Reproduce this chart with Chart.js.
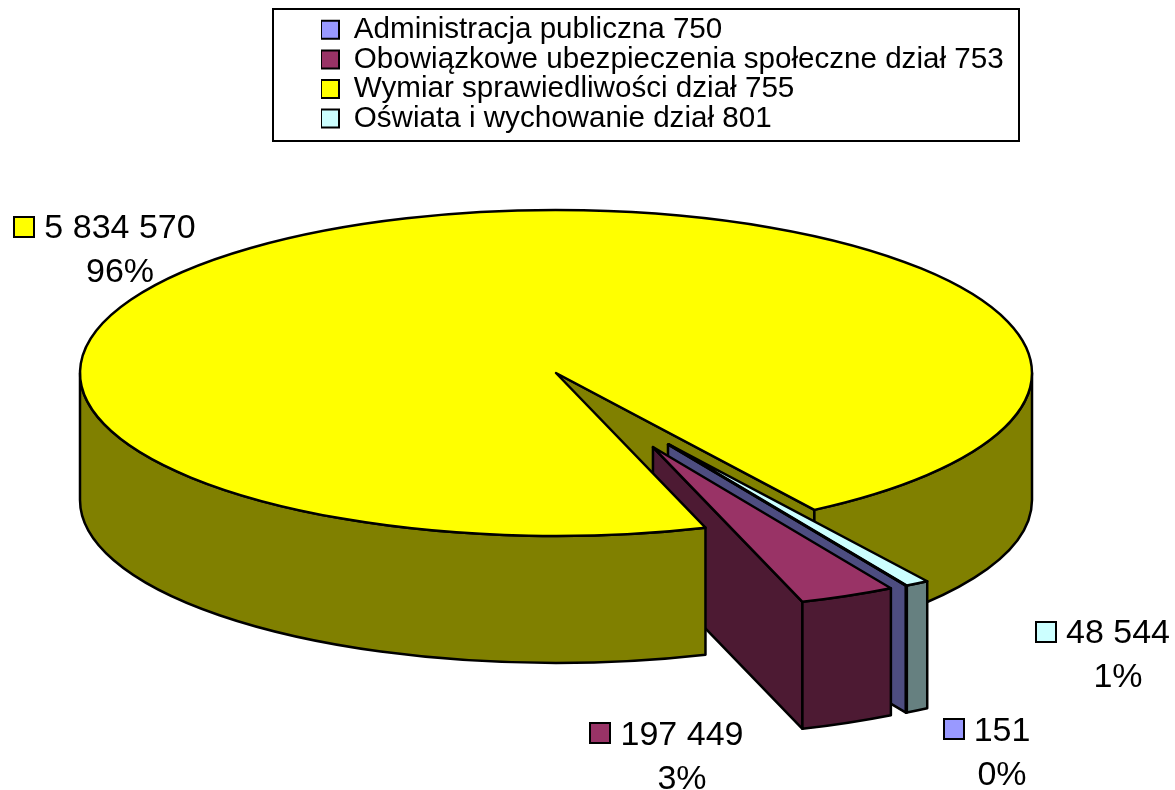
<!DOCTYPE html>
<html lang="pl">
<head>
<meta charset="utf-8">
<title>Wydatki wg działów</title>
<script src="https://cdn.jsdelivr.net/npm/chart.js@4"></script>
<style>
    html, body { margin: 0; background: #fff; overflow: hidden; }
    canvas { display: block; }
</style>
</head>
<body>
<canvas id="pieChart" width="1175" height="790"></canvas>
<script>
const categories = [
    'Administracja publiczna 750',
    'Obowiązkowe ubezpieczenia społeczne dział 753',
    'Wymiar sprawiedliwości dział 755',
    'Oświata i wychowanie dział 801'
];
const values = [151, 197449, 5834570, 48544];
const topColors = ['#9999FF', '#993366', '#FFFF00', '#CCFFFF'];
const wallColors = ['#4D4D80', '#4D1A33', '#808000', '#668080'];

// look of the 3D pie
const SQUASH = 0.3424;
const DEPTH = 127;
const EXPLODE = [237, 237, 0, 237];
const EXPLODE_TILT = [1.8, 0, 0, 3];
const BIG_SLICE = 2;
const SMALL_SLICES = [3, 0, 1];
const FONT = '"Liberation Sans", Arial, sans-serif';
const INK = '#000';

// where each value label sits: x is the text centre, y the first baseline
const LABEL_SPOTS = [
    { x: 1002, y: 741, keyX: 944, keyY: 719 },
    { x: 682, y: 745, keyX: 590, keyY: 723 },
    { x: 120, y: 238, keyX: 14, keyY: 217 },
    { x: 1118, y: 643, keyX: 1036, keyY: 622 }
];

function squash(ctx, cy) {
    ctx.translate(0, cy);
    ctx.scale(1, SQUASH);
    ctx.translate(0, -cy);
}

function wallPen(ctx, color) {
    ctx.fillStyle = color;
    ctx.strokeStyle = INK;
    ctx.lineWidth = 2.5;
    ctx.lineJoin = 'round';
}

// the cut face that is turned towards the viewer
function sideWall(ctx, arc, cy) {
    const angle = Math.cos(arc.endAngle) > 0 ? arc.endAngle : arc.startAngle;
    const ry = (v) => cy + (v - cy) * SQUASH;
    const rimX = arc.x + Math.cos(angle) * arc.outerRadius;
    const rimY = ry(arc.y + Math.sin(angle) * arc.outerRadius);
    const apexY = ry(arc.y);
    ctx.beginPath();
    ctx.moveTo(arc.x, apexY);
    ctx.lineTo(rimX, rimY);
    ctx.lineTo(rimX, rimY + DEPTH);
    ctx.lineTo(arc.x, apexY + DEPTH);
    ctx.closePath();
    ctx.fill();
    ctx.stroke();
}

function rimWall(ctx, arc, from, to, cy) {
    ctx.beginPath();
    ctx.save();
    squash(ctx, cy);
    ctx.arc(arc.x, arc.y, arc.outerRadius, from, to);
    ctx.restore();
    ctx.save();
    ctx.translate(0, DEPTH);
    squash(ctx, cy);
    ctx.arc(arc.x, arc.y, arc.outerRadius, to, from, true);
    ctx.restore();
    ctx.closePath();
    ctx.fill();
    ctx.stroke();
}

// the rim shows only on the front half of the ellipse
function frontRanges(arc) {
    const ranges = [];
    for (let k = -2; k <= 2; k++) {
        const from = Math.max(arc.startAngle, k * 2 * Math.PI);
        const to = Math.min(arc.endAngle, k * 2 * Math.PI + Math.PI);
        if (to > from) ranges.push([from, to]);
    }
    return ranges;
}

function topFace(ctx, arc, cy) {
    ctx.save();
    squash(ctx, cy);
    arc.draw(ctx);
    ctx.beginPath();
    ctx.moveTo(arc.x, arc.y);
    ctx.arc(arc.x, arc.y, arc.outerRadius, arc.startAngle, arc.endAngle);
    ctx.closePath();
    ctx.restore();
    ctx.stroke();
}

const pie3d = {
    id: 'pie3d',
    afterDatasetUpdate(chart, args) {
        args.meta.data.forEach((arc, i) => {
            const mid = (arc.startAngle + arc.endAngle) / 2 + EXPLODE_TILT[i] * Math.PI / 180;
            arc.x += Math.cos(mid) * EXPLODE[i];
            arc.y += Math.sin(mid) * EXPLODE[i];
        });
    },
    beforeDatasetDraw(chart, args) {
        const ctx = chart.ctx;
        const area = chart.chartArea;
        const cy = (area.top + area.bottom) / 2;
        const big = args.meta.data[BIG_SLICE];
        const rims = frontRanges(big);

        ctx.save();
        // big slice: cut face and right part of the rim go behind the small slices
        wallPen(ctx, wallColors[BIG_SLICE]);
        sideWall(ctx, big, cy);
        rimWall(ctx, big, rims[1][0], rims[1][1], cy);

        SMALL_SLICES.forEach((i) => {
            const arc = args.meta.data[i];
            wallPen(ctx, wallColors[i]);
            sideWall(ctx, arc, cy);
            frontRanges(arc).forEach((r) => rimWall(ctx, arc, r[0], r[1], cy));
            topFace(ctx, arc, cy);
        });

        // the rest of the big slice covers the foot of the maroon wall
        wallPen(ctx, wallColors[BIG_SLICE]);
        rimWall(ctx, big, rims[0][0], rims[0][1], cy);
        topFace(ctx, big, cy);
        ctx.restore();
        return false;
    }
};

const legendFrame = {
    id: 'legendFrame',
    afterLayout(chart) {
        const legend = chart.legend;
        legend.left = 321;
        legend.right = 1019;
        legend.top = 15;
        legend.bottom = 141;
    },
    beforeDraw(chart) {
        const ctx = chart.ctx;
        ctx.save();
        ctx.strokeStyle = INK;
        ctx.lineWidth = 2;
        ctx.strokeRect(273, 9, 746, 132);
        ctx.restore();
    }
};

const valueLabels = {
    id: 'valueLabels',
    afterDraw(chart) {
        const ctx = chart.ctx;
        const total = values.reduce((a, b) => a + b, 0);
        ctx.save();
        ctx.font = '34px ' + FONT;
        ctx.textAlign = 'center';
        values.forEach((v, i) => {
            const spot = LABEL_SPOTS[i];
            const amount = String(v).replace(/\B(?=(\d{3})+$)/g, ' ');
            ctx.fillStyle = topColors[i];
            ctx.strokeStyle = INK;
            ctx.lineWidth = 2;
            ctx.fillRect(spot.keyX, spot.keyY, 20, 20);
            ctx.strokeRect(spot.keyX, spot.keyY, 20, 20);
            ctx.fillStyle = INK;
            ctx.fillText(amount, spot.x, spot.y);
            ctx.fillText(Math.round(v / total * 100) + '%', spot.x, spot.y + 44);
        });
        ctx.restore();
    }
};

new Chart(document.getElementById('pieChart'), {
    type: 'pie',
    data: {
        labels: categories,
        datasets: [{
            data: values,
            backgroundColor: topColors,
            borderWidth: 0,
            clip: false
        }]
    },
    options: {
        responsive: false,
        animation: false,
        radius: 476,
        rotation: 150,
        layout: { padding: { right: 63, bottom: 44 } },
        plugins: {
            tooltip: { enabled: false },
            legend: {
                position: 'chartArea',
                align: 'start',
                labels: {
                    boxWidth: 18,
                    boxHeight: 18,
                    padding: 0,
                    color: INK,
                    font: { family: FONT, size: 29.6 },
                    generateLabels(chart) {
                        return categories.map((text, i) => ({
                            text: text,
                            fillStyle: topColors[i],
                            strokeStyle: INK,
                            lineWidth: 2,
                            fontColor: INK,
                            index: i
                        }));
                    }
                }
            }
        }
    },
    plugins: [pie3d, legendFrame, valueLabels]
});
</script>
</body>
</html>
